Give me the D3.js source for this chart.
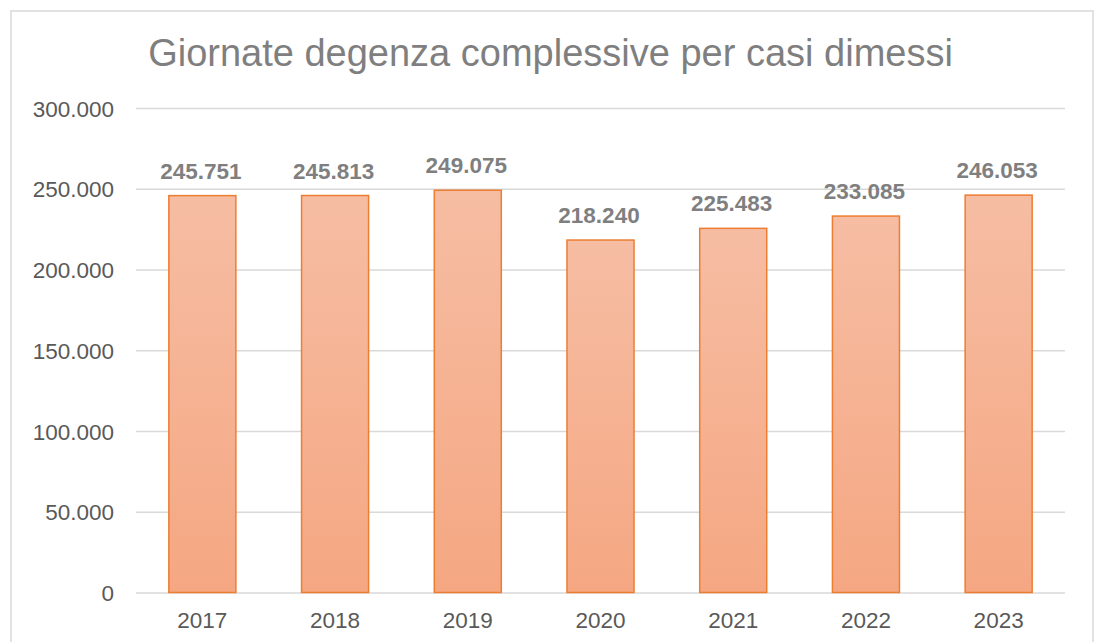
<!DOCTYPE html>
<html>
<head>
<meta charset="utf-8">
<script src="https://cdn.jsdelivr.net/npm/d3@7"></script>
<style>
  html, body { margin: 0; padding: 0; background: #fff; }
  svg { display: block; font-family: "Liberation Sans", Arial, sans-serif; }
</style>
</head>
<body>
<svg id="chart" width="1098" height="642"></svg>
<script>
const titleText = "Giornate degenza complessive per casi dimessi";
const years = ["2017", "2018", "2019", "2020", "2021", "2022", "2023"];
const values = [245751, 245813, 249075, 218240, 225483, 233085, 246053];
const yTicks = [0, 50000, 100000, 150000, 200000, 250000, 300000];

const W = 1098, H = 642;
const svg = d3.select("#chart");

const locale = d3.formatLocale({ decimal: ",", thousands: ".", grouping: [3], currency: ["€", ""] });
const fmt = locale.format(",d");

// outer border
svg.append("rect")
  .attr("x", 11).attr("y", 11)
  .attr("width", 1082).attr("height", 660)
  .attr("fill", "#fff").attr("stroke", "#D9D9D9").attr("stroke-width", 1.5);

const plot = { left: 136, right: 1065, top: 108, bottom: 592.5 };

const x = d3.scaleBand().domain(years).range([plot.left, plot.right]).paddingInner(0.495).paddingOuter(0.2475);
const y = d3.scaleLinear().domain([0, 300000]).range([plot.bottom, plot.top]);

// gradient
const defs = svg.append("defs");
const grad = defs.append("linearGradient").attr("id", "barGrad")
  .attr("x1", 0).attr("y1", 0).attr("x2", 0).attr("y2", 1);
grad.append("stop").attr("offset", "0%").attr("stop-color", "#F6BDA3");
grad.append("stop").attr("offset", "100%").attr("stop-color", "#F5A782");

// gridlines
const yAxisGrid = d3.axisLeft(y).tickValues(yTicks).tickSize(-(plot.right - plot.left)).tickFormat("");
const g = svg.append("g").attr("transform", `translate(${plot.left},0)`).call(yAxisGrid);
g.select(".domain").remove();
g.selectAll("line").attr("stroke", "#D9D9D9").attr("stroke-width", 1.5);

// y labels
const yAxis = d3.axisLeft(y).tickValues(yTicks).tickSize(0).tickPadding(0).tickFormat(fmt);
const ya = svg.append("g").attr("transform", `translate(114,0)`).call(yAxis);
ya.select(".domain").remove();
ya.selectAll("text")
  .attr("font-family", "Liberation Sans, Arial, sans-serif")
  .attr("font-size", 22.5).attr("fill", "#595959").attr("dy", "0.36em");

// x labels
const xAxis = d3.axisBottom(x).tickSize(0).tickPadding(0);
const xa = svg.append("g").attr("transform", `translate(0,${plot.bottom})`).call(xAxis);
xa.select(".domain").remove();
xa.selectAll("text")
  .attr("font-family", "Liberation Sans, Arial, sans-serif")
  .attr("font-size", 22.5).attr("fill", "#595959")
  .attr("y", 35.5).attr("dy", 0);

// bars
const data = years.map((yr, i) => ({ year: yr, value: values[i] }));
svg.append("g").selectAll("rect").data(data).join("rect")
  .attr("x", d => x(d.year))
  .attr("y", d => y(d.value))
  .attr("width", x.bandwidth())
  .attr("height", d => y(0) - y(d.value))
  .attr("fill", "url(#barGrad)")
  .attr("stroke", "#ED7D31").attr("stroke-width", 1.5);

// data labels
svg.append("g").selectAll("text").data(data).join("text")
  .attr("x", d => x(d.year) + x.bandwidth() / 2 - 1.5)
  .attr("y", d => y(d.value) - 17)
  .attr("text-anchor", "middle")
  .attr("font-size", 22.5).attr("font-weight", "bold").attr("fill", "#7F7F7F")
  .text(d => fmt(d.value));

// title
svg.append("text")
  .attr("x", 550.5).attr("y", 66)
  .attr("text-anchor", "middle")
  .attr("font-size", 38).attr("fill", "#7F7F7F")
  .text(titleText);
</script>
</body>
</html>
